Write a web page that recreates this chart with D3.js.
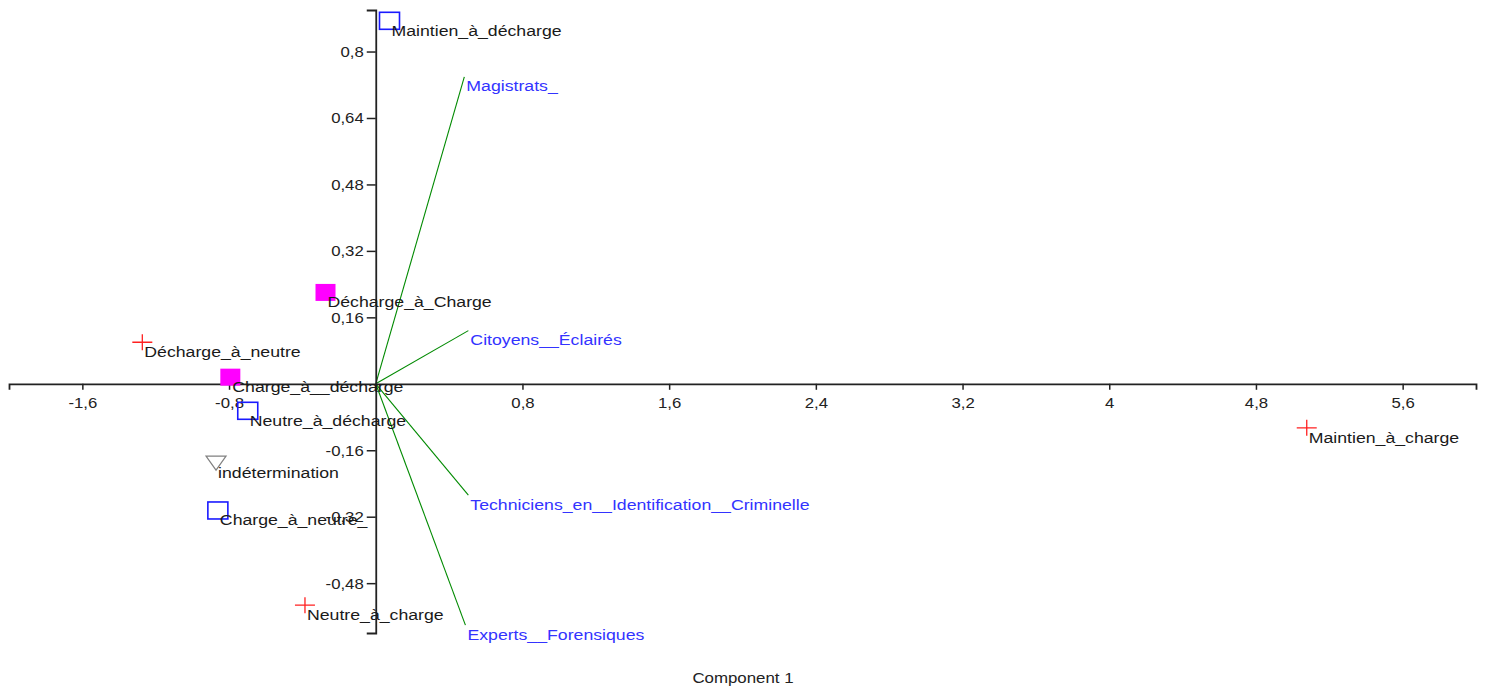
<!DOCTYPE html>
<html>
<head>
<meta charset="utf-8">
<script src="https://cdn.jsdelivr.net/npm/d3@7"></script>
<style>
  html, body { margin: 0; padding: 0; background: #fff; }
  text { font-family: "Liberation Sans", Arial, sans-serif; }
</style>
</head>
<body>
<svg id="chart" width="1485" height="688"></svg>
<script>
// ---- data ----
const pointNames = ["Maintien_à_décharge", "Décharge_à_Charge", "Décharge_à_neutre", "Charge_à__décharge",
  "Neutre_à_décharge", "indétermination", "Charge_à_neutre_", "Neutre_à_charge", "Maintien_à_charge"];
const pointX = [0.075, -0.274, -1.273, -0.793, -0.698, -0.871, -0.861, -0.386, 5.077];
const pointY = [0.874, 0.220, 0.100, 0.016, -0.065, -0.191, -0.305, -0.533, -0.106];
const pointGroup = ["square", "filled", "cross", "filled", "square", "triangle", "square", "cross", "cross"];

const vectorNames = ["Magistrats_", "Citoyens__Éclairés", "Techniciens_en__Identification__Criminelle", "Experts__Forensiques"];
const vectorX = [0.483, 0.505, 0.505, 0.489];
const vectorY = [0.739, 0.128, -0.268, -0.581];

const xTicks = [-1.6, -0.8, 0.8, 1.6, 2.4, 3.2, 4, 4.8, 5.6];
const yTicks = [-0.48, -0.32, -0.16, 0.16, 0.32, 0.48, 0.64, 0.8];
const xTitle = "Component 1";

// ---- layout ----
const SX = 1.18; // horizontal text stretch
const svg = d3.select("#chart");
const x = d3.scaleLinear().domain([-2, 6]).range([9, 1476]);
const y = d3.scaleLinear().domain([-0.6, 0.9]).range([633, 10]);
const loc = d3.formatLocale({decimal: ",", thousands: " ", grouping: [3], currency: ["", ""], minus: "-"});
const fmt = loc.format("~g");

// vectors
const vg = svg.append("g");
vectorNames.forEach((n, i) => {
  vg.append("line")
    .attr("x1", x(0)).attr("y1", y(0))
    .attr("x2", x(vectorX[i])).attr("y2", y(vectorY[i]))
    .attr("stroke", "#008a00").attr("stroke-width", 1.1);
});

// axes
const xAxis = svg.append("g").attr("transform", `translate(0,${y(0)})`)
  .call(d3.axisBottom(x).tickValues(xTicks).tickFormat(fmt).tickSizeOuter(0).tickSize(6));
const yAxis = svg.append("g").attr("transform", `translate(${x(0)},0)`)
  .call(d3.axisLeft(y).tickValues(yTicks).tickFormat(fmt).tickSizeOuter(0).tickSize(9));
[xAxis, yAxis].forEach(a => {
  a.select(".domain").attr("stroke", "#222").attr("stroke-width", 1.8);
  a.selectAll(".tick line").attr("stroke", "#222").attr("stroke-width", 1.5);
  a.selectAll(".tick text").attr("fill", "#222").attr("font-size", 14.2)
    .attr("font-family", "Liberation Sans, Arial, sans-serif");
});
xAxis.selectAll(".tick text").attr("y", 0).attr("dy", 0)
  .attr("transform", `translate(0,24) scale(${SX},1)`);
yAxis.selectAll(".tick text").attr("x", 0).attr("dy", 0)
  .attr("transform", `translate(-12,5) scale(${SX},1)`);

// points
const pg = svg.append("g");
pointNames.forEach((n, i) => {
  const cx = x(pointX[i]), cy = y(pointY[i]);
  const t = pointGroup[i];
  if (t === "square") {
    pg.append("rect").attr("x", cx - 10).attr("y", cy - 8.5).attr("width", 20).attr("height", 17)
      .attr("fill", "none").attr("stroke", "#1a1aff").attr("stroke-width", 1.6);
  } else if (t === "filled") {
    pg.append("rect").attr("x", cx - 10).attr("y", cy - 8.5).attr("width", 20).attr("height", 17)
      .attr("fill", "#ff00ff");
  } else if (t === "cross") {
    pg.append("path").attr("d", `M${cx - 10},${cy}H${cx + 10}M${cx},${cy - 8}V${cy + 8}`)
      .attr("stroke", "#ff2020").attr("stroke-width", 1.3).attr("fill", "none");
  } else if (t === "triangle") {
    pg.append("path").attr("d", `M${cx - 10},${cy - 7}L${cx + 10},${cy - 7}L${cx},${cy + 7}Z`)
      .attr("stroke", "#808080").attr("stroke-width", 1.2).attr("fill", "none");
  }
});

// labels
const lg = svg.append("g");
pointNames.forEach((n, i) => {
  lg.append("text")
    .attr("transform", `translate(${x(pointX[i]) + 2},${y(pointY[i]) + 15}) scale(${SX},1)`)
    .attr("font-size", 15).attr("fill", "#1a1a1a").text(n);
});
vectorNames.forEach((n, i) => {
  lg.append("text")
    .attr("transform", `translate(${x(vectorX[i]) + 2},${y(vectorY[i]) + 14.5}) scale(${SX},1)`)
    .attr("font-size", 15).attr("fill", "#3333ff").text(n);
});

// axis title
svg.append("text")
  .attr("transform", `translate(743,683) scale(${SX},1)`)
  .attr("text-anchor", "middle").attr("font-size", 14.3).attr("fill", "#222")
  .text(xTitle);
</script>
</body>
</html>
